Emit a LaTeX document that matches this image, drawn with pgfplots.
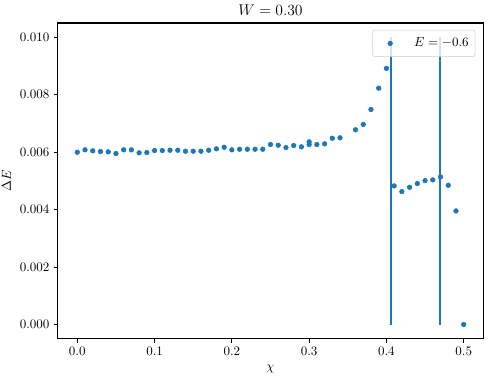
\documentclass[border=0pt]{standalone}
\usepackage{pgfplots}
\pgfplotsset{compat=1.18}
\usetikzlibrary{calc}
\definecolor{mplblue}{HTML}{1F77B4}

\pgfplotstableread{
x dE
0.00 0.006000
0.01 0.006083
0.02 0.006048
0.03 0.006024
0.04 0.006013
0.05 0.005954
0.06 0.006083
0.07 0.006083
0.08 0.005979
0.09 0.005989
0.10 0.006059
0.11 0.006059
0.12 0.006069
0.13 0.006069
0.14 0.006035
0.15 0.006035
0.16 0.006035
0.17 0.006069
0.18 0.006118
0.19 0.006174
0.20 0.006083
0.21 0.006104
0.22 0.006104
0.23 0.006104
0.24 0.006104
0.25 0.006268
0.26 0.006244
0.27 0.006163
0.28 0.006233
0.29 0.006188
0.30 0.006362
0.30 0.006268
0.31 0.006268
0.32 0.006292
0.33 0.006488
0.34 0.006502
0.36 0.006781
0.37 0.006966
0.38 0.007489
0.39 0.008230
0.40 0.008919
0.41 0.004827
0.42 0.004629
0.43 0.004779
0.44 0.004908
0.45 0.005012
0.46 0.005037
0.47 0.005141
0.48 0.004848
0.49 0.003955
0.50 0.000000
}\gapdata

\begin{document}
\begin{tikzpicture}
\begin{axis}[
    scale only axis,
    width=327pt, height=243pt,
    xmin=-0.025, xmax=0.525,
    ymin=-0.0005, ymax=0.0105,
    xtick={0,0.1,...,0.5},
    ytick={0,0.002,0.004,0.006,0.008,0.010},
    scaled x ticks=false, scaled y ticks=false,
    xticklabel style={/pgf/number format/.cd, fixed, fixed zerofill, precision=1},
    yticklabel style={/pgf/number format/.cd, fixed, fixed zerofill, precision=3},
    tick align=outside,
    major tick length=3pt,
    tick style={black, line width=0.8pt},
    xtick pos=bottom, ytick pos=left,
    axis line style={line width=0.8pt},
    xlabel={$\chi$},
    ylabel={$\Delta E$},
    title={\large $W = 0.30$},
    title style={yshift=-4pt},
    legend style={at={(0.982,0.978)}, anchor=north east,
        draw=black!20, fill=white, fill opacity=0.8, text opacity=1,
        rounded corners=2pt, inner xsep=3pt, inner ysep=4pt},
    legend cell align=right,
]
\addplot [forget plot, mplblue, line width=1.5pt] coordinates {(0.4064,0) (0.4064,0.01)};
\addplot [forget plot, mplblue, line width=1.5pt] coordinates {(0.4691,0) (0.4691,0.01)};
\addplot [only marks, mark=*, mark size=1.8pt, color=mplblue,
    legend image code/.code={
        \path[draw=none, fill=none] (0cm,-0.1cm) rectangle (0.95cm,0.1cm);
        \fill[mplblue, fill opacity=1] (0.37cm,0cm) circle (1.8pt);}]
    table [x=x, y=dE] {\gapdata};
\addlegendentry{$E = -0.6$}
\end{axis}
\pgfresetboundingbox
\path[use as bounding box] ($(current axis.south west)+(-44.6pt,-31.5pt)$)
    rectangle ($(current axis.north east)+(4.6pt,17.7pt)$);
\end{tikzpicture}
\end{document}
